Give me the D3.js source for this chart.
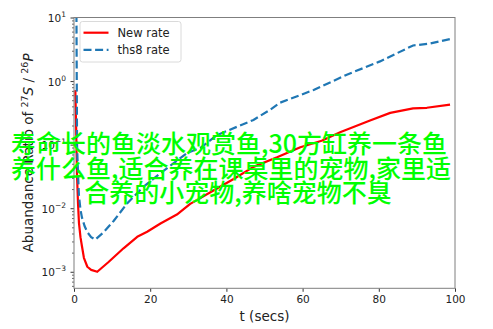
<!DOCTYPE html>
<html>
<head>
<meta charset="utf-8">
<script src="https://cdn.jsdelivr.net/npm/d3@7"></script>
<style>
  html, body { margin: 0; padding: 0; background: #fff; }
  svg { display: block; }
</style>
</head>
<body>
<svg id="chart" width="493" height="329"></svg>
<script>
// Abundance ratio of 27S / 26P versus time for two reaction-rate sets
const newRateT = [0.35, 0.55, 0.8, 1.05, 1.3, 1.7, 2.1, 2.6, 3.5, 4.5, 6.1, 9, 13, 16.6, 19.2, 22.7, 27, 30.5, 35.8, 41.9, 47.1, 53.3, 59.4, 65, 70, 77.7, 83, 89, 92.6, 98.7];
const newRateV = [0.72, 0.2, 0.032, 0.012, 0.0059, 0.0035, 0.0025, 0.00166, 0.0012, 0.00107, 0.001, 0.00141, 0.00234, 0.00355, 0.00427, 0.00575, 0.00794, 0.0117, 0.0178, 0.0288, 0.0447, 0.0631, 0.0912, 0.115, 0.158, 0.24, 0.316, 0.372, 0.38, 0.427];

const ths8T = [0.6, 0.7, 0.8, 1.05, 1.3, 1.7, 2.1, 2.8, 3.5, 4.5, 5.6, 7.8, 10.4, 14, 18.3, 22.7, 29.7, 33.2, 37.5, 47.1, 51.5, 54.1, 62.9, 71.6, 80.3, 89, 93.4, 98.7];
const ths8V = [40, 2.0, 0.1, 0.035, 0.0158, 0.0095, 0.0071, 0.0052, 0.0042, 0.0035, 0.0032, 0.0042, 0.0063, 0.012, 0.0219, 0.0355, 0.0741, 0.0891, 0.141, 0.245, 0.355, 0.457, 0.724, 1.26, 2.04, 3.63, 3.89, 4.57];

const xTicks = [0, 20, 40, 60, 80, 100];
const yTickExps = [-3, -2, -1, 0, 1];

const seriesNames = ["New rate", "ths8 rate"];
const overlayLines = [
  "寿命长的鱼淡水观赏鱼,30方缸养一条鱼",
  "养什么鱼,适合养在课桌里的宠物,家里适",
  "合养的小宠物,养啥宠物不臭"
];

const svg = d3.select("#chart");
const plot = { left: 74, right: 455, top: 17.5, bottom: 288.3 };

const x = d3.scaleLinear().domain([0, 100]).range([plot.left, plot.right]);
const y = d3.scaleLog().domain([Math.pow(10, -3.26), 10]).range([plot.bottom, plot.top]);

const tickFont = "DejaVu Sans, sans-serif";

// clip region for the data lines
svg.append("defs").append("clipPath").attr("id", "plotClip")
  .append("rect")
  .attr("x", plot.left).attr("y", plot.top)
  .attr("width", plot.right - plot.left).attr("height", plot.bottom - plot.top);

// x axis
const xAxis = svg.append("g")
  .attr("transform", `translate(0,${plot.bottom})`)
  .call(d3.axisBottom(x).tickValues(xTicks).tickSize(3.5).tickPadding(3.5).tickFormat(d3.format("d")));
xAxis.select(".domain").remove();
xAxis.selectAll(".tick line").attr("stroke", "#000").attr("stroke-width", 0.8);
xAxis.selectAll(".tick text").attr("font-family", tickFont).attr("font-size", 10.5).attr("fill", "#222");

// y axis (log): major decades plus minor ticks
const minorTicks = [];
for (let e = -4; e <= 0; e++) {
  for (let m = 2; m <= 9; m++) {
    const v = m * Math.pow(10, e);
    if (v >= y.domain()[0] && v <= y.domain()[1]) minorTicks.push(v);
  }
}
const yMinor = svg.append("g")
  .attr("transform", `translate(${plot.left},0)`)
  .call(d3.axisLeft(y).tickValues(minorTicks).tickSize(2).tickFormat(""));
yMinor.select(".domain").remove();
yMinor.selectAll(".tick line").attr("stroke", "#000").attr("stroke-width", 0.6);

const yAxis = svg.append("g")
  .attr("transform", `translate(${plot.left},0)`)
  .call(d3.axisLeft(y).tickValues(yTickExps.map(e => Math.pow(10, e))).tickSize(3.5).tickFormat(""));
yAxis.select(".domain").remove();
yAxis.selectAll(".tick line").attr("stroke", "#000").attr("stroke-width", 0.8);

// y tick labels as 10 with a superscript exponent
yAxis.selectAll(".tick").each(function(d, i) {
  const e = yTickExps[i];
  const t = d3.select(this).append("text")
    .attr("x", -8).attr("y", 4)
    .attr("text-anchor", "end")
    .attr("font-family", tickFont).attr("font-size", 10.5).attr("fill", "#222");
  t.append("tspan").text("10");
  t.append("tspan").attr("dy", -5).attr("font-size", 7.5).text(e < 0 ? "\u2212" + (-e) : String(e));
});

// data lines
const line = d3.line().x(d => x(d[0])).y(d => y(d[1]));
const gLines = svg.append("g").attr("clip-path", "url(#plotClip)");

gLines.append("path")
  .datum(newRateT.map((t, i) => [t, newRateV[i]]))
  .attr("d", line)
  .attr("fill", "none").attr("stroke", "#ff0000").attr("stroke-width", 2.2)
  .attr("stroke-linejoin", "round");

gLines.append("path")
  .datum(ths8T.map((t, i) => [t, ths8V[i]]))
  .attr("d", line)
  .attr("fill", "none").attr("stroke", "#1f77b4").attr("stroke-width", 2.2)
  .attr("stroke-dasharray", "8,3.6");

// axes frame
svg.append("rect")
  .attr("x", plot.left).attr("y", plot.top)
  .attr("width", plot.right - plot.left).attr("height", plot.bottom - plot.top)
  .attr("fill", "none").attr("stroke", "#7f7f7f").attr("stroke-width", 1);

// legend
const legend = svg.append("g");
legend.append("rect")
  .attr("x", 80).attr("y", 21.5).attr("width", 101).attr("height", 40.5).attr("rx", 2.5)
  .attr("fill", "#fff").attr("fill-opacity", 0.8).attr("stroke", "#d0d0d0").attr("stroke-width", 0.8);
const legendStyles = [
  { color: "#ff0000", dash: null },
  { color: "#1f77b4", dash: "8,3.6" }
];
seriesNames.forEach((name, i) => {
  const ly = 32.7 + i * 17.2;
  legend.append("line")
    .attr("x1", 83.5).attr("x2", 108.5).attr("y1", ly).attr("y2", ly)
    .attr("stroke", legendStyles[i].color).attr("stroke-width", 2.2)
    .attr("stroke-dasharray", legendStyles[i].dash);
  legend.append("text")
    .attr("x", 117.5).attr("y", ly + 4.2)
    .attr("font-family", tickFont).attr("font-size", 11.5).attr("fill", "#222")
    .text(name);
});

// axis labels
svg.append("text")
  .attr("x", (plot.left + plot.right) / 2).attr("y", 321)
  .attr("text-anchor", "middle")
  .attr("font-family", tickFont).attr("font-size", 13.5).attr("fill", "#222")
  .text("t (secs)");

const yl = svg.append("text")
  .attr("transform", `translate(33,${(plot.top + plot.bottom) / 2}) rotate(-90)`)
  .attr("text-anchor", "middle")
  .attr("font-family", tickFont).attr("font-size", 13.5).attr("fill", "#222");
yl.append("tspan").text("Abuandance Ratio of ");
yl.append("tspan").attr("font-size", 9.5).attr("dy", -5).text("27");
yl.append("tspan").attr("font-style", "italic").attr("dy", 5).text("S");
yl.append("tspan").text(" / ");
yl.append("tspan").attr("font-size", 9.5).attr("dy", -5).text("26");
yl.append("tspan").attr("font-style", "italic").attr("dy", 5).text("P");

// overlay caption
const captionX = [229, 231, 238];
const caption = svg.append("g")
  .attr("font-family", "'Noto Sans CJK SC', sans-serif")
  .attr("font-size", 25).attr("font-weight", 500).attr("fill", "#00ff00");
overlayLines.forEach((s, i) => {
  caption.append("text")
    .attr("x", captionX[i]).attr("y", 153 + i * 24.6)
    .attr("text-anchor", "middle")
    .text(s);
});
</script>
</body>
</html>
